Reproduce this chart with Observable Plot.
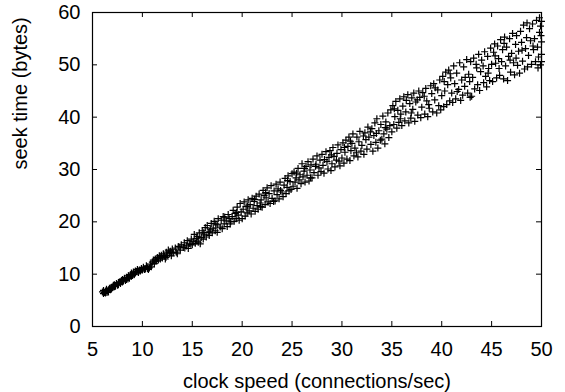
<!DOCTYPE html>
<html>
<head>
<meta charset="utf-8">
<script src="https://cdn.jsdelivr.net/npm/d3@7"></script>
<script src="https://cdn.jsdelivr.net/npm/@observablehq/plot@0.6"></script>
<style>
  html, body { margin: 0; padding: 0; background: #fff; }
</style>
</head>
<body>
<div id="chart"></div>
<script>
// ---- data ----
const xLabel = "clock speed (connections/sec)";
const yLabel = "seek time (bytes)";
const xTicks = [5, 10, 15, 20, 25, 30, 35, 40, 45, 50];
const yTicks = [0, 10, 20, 30, 40, 50, 60];

const seg1 = [[6.0,6.6],[6.1,6.3],[6.1,6.9],[6.2,6.5],[6.3,6.8],[6.3,6.4],[6.4,7.1],[6.5,6.8],[6.6,7.0],[6.6,6.6],[6.7,7.3],[6.8,7.0],[6.9,7.5],[6.9,7.2],[7.0,7.4],[7.1,7.9],[7.2,7.6],[7.2,8.0],[7.3,7.7],[7.4,8.2],[7.5,7.9],[7.6,8.4],[7.6,8.0],[7.7,8.5],[7.8,8.2],[7.9,8.8],[8.0,8.5],[8.0,9.0],[8.1,8.7],[8.2,9.2],[8.3,8.8],[8.4,9.4],[8.4,9.0],[8.5,9.3],[8.6,9.7],[8.7,9.2],[8.8,9.9],[8.9,9.6],[8.9,10.2],[9.0,9.8],[9.1,10.4],[9.2,10.0],[9.3,10.6],[9.3,10.2],[9.4,10.5],[9.5,10.9],[9.6,10.3],[9.7,10.8],[9.8,10.6],[9.9,11.1],[10.0,10.8]];
const seg2 = [[10.1,11.3],[10.2,10.9],[10.3,11.0],[10.4,11.6],[10.5,11.1],[10.6,10.9],[10.7,11.2],[10.8,11.9],[10.9,11.4],[11.0,12.3],[11.1,12.7],[11.2,12.0],[11.3,12.9],[11.4,12.5],[11.5,13.2],[11.6,12.7],[11.7,13.5],[11.8,12.9],[11.9,13.6],[12.0,13.1],[12.1,13.9],[12.2,13.4],[12.3,12.9],[12.4,14.2],[12.5,13.6],[12.6,14.6],[12.7,13.9],[12.8,14.4],[12.9,13.5],[13.0,14.8],[13.1,14.1],[13.3,15.0],[13.4,14.2],[13.5,13.9],[13.6,15.3],[13.8,14.6],[13.9,15.6],[14.1,15.1],[14.2,16.0],[14.4,15.4],[14.5,16.4],[14.6,14.9],[14.7,15.8],[14.9,16.7],[15.0,15.6]];
const seg3 = [[15.1,16.3],[15.2,17.6],[15.3,15.9],[15.4,16.8],[15.5,17.2],[15.6,16.1],[15.7,17.9],[15.8,15.8],[15.9,17.0],[16.0,18.3],[16.1,16.7],[16.2,17.5],[16.3,18.9],[16.4,17.1],[16.5,19.3],[16.6,18.0],[16.7,17.4],[16.8,18.6],[16.9,19.7],[17.0,17.9],[17.1,18.8],[17.2,20.1],[17.3,18.3],[17.5,19.4],[17.5,18.0],[17.6,20.6],[17.8,19.0],[17.9,20.3],[18.0,18.7],[18.1,21.0],[18.2,19.6],[18.4,20.2],[18.5,19.1],[18.6,21.4],[18.7,20.6],[18.8,19.6],[19.0,21.0],[19.1,22.2],[19.2,20.1],[19.3,21.6],[19.4,20.6],[19.5,22.8],[19.6,21.3],[19.7,20.3],[19.8,23.5],[19.9,21.9],[20.0,20.6]];
const seg4 = [[20.1,22.4],[20.2,23.8],[20.3,21.1],[20.4,22.9],[20.5,21.7],[20.6,24.2],[20.7,22.1],[20.8,23.3],[20.9,21.5],[21.0,24.5],[21.1,22.6],[21.2,23.9],[21.3,22.0],[21.4,24.9],[21.5,23.1],[21.6,22.4],[21.7,25.3],[21.8,23.6],[21.9,24.2],[22.0,22.8],[22.1,26.0],[22.2,25.0],[22.3,23.3],[22.4,24.6],[22.5,26.5],[22.6,23.8],[22.7,25.4],[22.8,23.5],[22.9,26.9],[23.0,24.5],[23.2,25.9],[23.3,24.0],[23.4,27.2],[23.5,25.2],[23.6,26.3],[23.7,24.4],[23.8,27.6],[24.0,25.7],[24.1,24.8],[24.2,27.0],[24.3,28.3],[24.4,25.4],[24.5,26.6],[24.6,28.8],[24.7,25.9],[24.8,27.7],[24.9,26.2],[25.0,29.2]];
const seg5 = [[25.1,26.8],[25.2,29.5],[25.3,27.6],[25.4,28.4],[25.5,26.4],[25.6,30.2],[25.7,28.0],[25.8,29.0],[25.9,27.3],[26.0,31.1],[26.1,28.6],[26.2,29.7],[26.3,27.6],[26.4,30.6],[26.5,28.9],[26.6,31.5],[26.7,27.8],[26.8,29.9],[26.9,30.9],[27.0,28.4],[27.1,32.0],[27.2,29.4],[27.4,31.0],[27.5,32.6],[27.6,28.9],[27.7,30.3],[27.8,31.8],[27.9,29.6],[28.0,32.9],[28.1,30.8],[28.2,29.3],[28.4,33.4],[28.5,31.5],[28.6,30.1],[28.7,32.3],[28.8,33.6],[28.9,29.8],[29.0,31.1],[29.1,34.2],[29.2,32.5],[29.3,30.5],[29.5,33.1],[29.6,34.7],[29.7,31.6],[29.8,30.7],[29.9,33.8],[30.0,32.2]];
const seg6 = [[30.1,35.1],[30.2,31.2],[30.3,33.3],[30.4,35.6],[30.5,32.0],[30.6,34.4],[30.7,36.2],[30.8,31.7],[30.9,33.6],[31.0,35.0],[31.1,36.8],[31.2,32.6],[31.3,34.1],[31.5,36.2],[31.6,32.4],[31.7,35.3],[31.8,37.3],[31.9,33.5],[32.0,34.6],[32.2,32.9],[32.3,37.0],[32.4,35.7],[32.5,33.9],[32.6,38.1],[32.7,36.2],[32.9,34.8],[33.0,37.8],[33.1,33.5],[33.2,36.5],[33.3,38.9],[33.4,35.2],[33.5,39.7],[33.6,34.1],[33.7,37.4],[33.9,38.6],[34.0,35.8],[34.1,40.2],[34.2,36.8],[34.3,34.9],[34.4,39.1],[34.5,37.7],[34.6,40.8],[34.7,36.1],[34.8,38.4],[34.9,41.4],[35.0,37.2]];
const seg7 = [[35.1,42.2],[35.2,38.6],[35.3,40.1],[35.4,43.0],[35.5,37.9],[35.6,41.3],[35.7,39.0],[35.8,43.5],[35.9,40.6],[36.0,38.4],[36.1,42.1],[36.2,43.9],[36.3,39.3],[36.4,41.0],[36.6,44.3],[36.7,38.9],[36.8,42.6],[36.9,39.8],[37.0,43.7],[37.1,41.5],[37.2,44.6],[37.3,39.2],[37.4,42.9],[37.6,40.4],[37.7,45.0],[37.8,43.8],[37.9,39.9],[38.0,41.9],[38.1,44.7],[38.3,40.6],[38.4,45.5],[38.5,43.1],[38.6,40.1],[38.7,42.4],[38.9,46.0],[39.0,44.5],[39.1,41.0],[39.2,46.4],[39.3,43.3],[39.5,40.8],[39.6,45.2],[39.7,42.2],[39.8,47.1],[39.9,41.4],[40.0,44.1]];
const seg8 = [[40.1,47.8],[40.2,42.0],[40.3,45.0],[40.4,48.6],[40.5,42.4],[40.6,46.2],[40.7,49.0],[40.8,43.1],[40.9,47.5],[41.0,44.6],[41.1,42.8],[41.2,49.8],[41.3,46.4],[41.4,43.5],[41.5,48.4],[41.7,45.3],[41.8,50.4],[41.9,43.2],[42.0,47.1],[42.1,44.2],[42.2,49.6],[42.3,45.9],[42.5,51.0],[42.6,44.6],[42.7,48.2],[42.8,46.8],[42.9,50.6],[43.0,44.0],[43.1,47.6],[43.2,51.3],[43.3,45.4],[43.5,49.4],[43.6,46.2],[43.7,52.0],[43.8,45.1],[43.9,48.7],[44.0,50.9],[44.2,46.6],[44.3,52.5],[44.4,47.8],[44.5,45.8],[44.6,51.6],[44.7,49.3],[44.8,47.0],[44.9,53.2],[45.0,50.1]];
const seg9 = [[45.1,46.8],[45.2,52.4],[45.3,54.0],[45.4,50.3],[45.5,47.5],[45.6,53.6],[45.7,51.2],[45.8,48.0],[45.9,54.8],[46.0,50.6],[46.1,52.9],[46.2,47.3],[46.3,55.3],[46.4,49.8],[46.5,53.4],[46.6,47.0],[46.7,51.6],[46.8,55.0],[46.9,48.6],[47.0,52.2],[47.1,56.0],[47.2,50.4],[47.3,48.1],[47.4,53.9],[47.5,55.6],[47.6,49.9],[47.7,52.6],[47.8,48.4],[47.9,56.4],[48.0,54.3],[48.1,50.7],[48.2,57.6],[48.3,49.2],[48.4,53.1],[48.5,55.2],[48.6,49.6],[48.7,51.8],[48.8,56.9],[48.9,54.6],[49.0,50.1],[49.1,57.8],[49.2,52.9],[49.3,55.0],[49.4,50.6],[49.5,58.5],[49.6,53.4],[49.7,51.5],[49.8,56.2],[49.8,59.0],[49.9,50.0],[50.0,54.4],[49.9,57.4],[50.0,52.0]];
const extra = [[6.45,6.5],[7.05,7.7],[7.85,8.6],[8.55,9.1],[9.15,9.9],[9.65,10.6],[10.45,11.4],[11.25,12.4],[11.85,13.3],[12.35,13.2],[12.95,14.1],[13.75,15.2],[14.25,15.0],[14.85,15.7],[15.45,16.3],[16.15,17.9],[16.75,18.2],[17.35,19.6],[18.25,20.9],[18.85,20.0],[19.45,21.8],[20.55,23.0],[21.25,24.3],[21.85,22.9],[22.35,25.6],[23.15,23.9],[23.85,26.0],[24.55,27.9],[25.45,29.3],[26.25,30.2],[26.85,28.4],[27.35,30.6],[28.25,31.9],[28.95,32.8],[29.45,31.8],[30.25,34.2],[30.85,35.4],[31.45,33.2],[32.15,36.4],[32.85,37.2],[33.45,36.9],[33.85,35.6],[34.35,38.0],[35.25,41.6],[35.85,39.7],[36.45,43.2],[36.95,40.8],[37.55,43.3],[38.25,44.0],[38.75,41.7],[39.35,45.6],[40.25,46.8],[40.85,48.3],[41.55,44.9],[42.35,47.6],[42.85,43.8],[43.45,50.1],[44.15,49.8],[44.65,48.4],[45.35,51.7],[45.75,49.3],[46.25,54.1],[46.85,50.9],[47.45,51.3],[48.05,52.8],[48.55,58.0],[49.15,53.6],[49.65,49.4],[49.95,55.6],[50.0,58.3],[50.0,50.6]];

const points = [...seg1, ...seg2, ...seg3, ...seg4, ...seg5, ...seg6, ...seg7, ...seg8, ...seg9, ...extra]
  .map(([x, y]) => ({x, y}));

// ---- layout ----
const W = 565, H = 392;
const mL = 92, mR = 24, mT = 12, mB = 66;
const innerW = W - mL - mR, innerH = H - mT - mB;
const font = "'Liberation Sans', Arial, Helvetica, sans-serif";

// gnuplot-like "+" symbol drawn with strokes
const plusSymbol = {
  draw(ctx, size) {
    const r = Math.sqrt(size / Math.PI);
    ctx.moveTo(-r, 0); ctx.lineTo(r, 0);
    ctx.moveTo(0, -r); ctx.lineTo(0, r);
  }
};

const chart = Plot.plot({
  width: W, height: H,
  marginLeft: mL, marginRight: mR, marginTop: mT, marginBottom: mB,
  style: {fontFamily: font, fontSize: "20px", color: "#000", background: "#fff"},
  x: {domain: [5, 50], axis: null},
  y: {domain: [0, 60], axis: null},
  marks: [
    Plot.dot(points, {x: "x", y: "y", symbol: plusSymbol, r: 3.5, fill: "none", stroke: "#000", strokeWidth: 1.2}),
    // inward tick marks (bottom, top, left, right)
    Plot.tickX(xTicks, {x: d => d, insetTop: innerH - 5, stroke: "#000"}),
    Plot.tickX(xTicks, {x: d => d, insetBottom: innerH - 5, stroke: "#000"}),
    Plot.tickY(yTicks, {y: d => d, insetRight: innerW - 5, stroke: "#000"}),
    Plot.tickY(yTicks, {y: d => d, insetLeft: innerW - 5, stroke: "#000"}),
    Plot.frame({stroke: "#000", strokeWidth: 1.2}),
    Plot.axisX(xTicks, {anchor: "bottom", tickSize: 0, tickPadding: 15, label: null, fontSize: 20}),
    Plot.axisY(yTicks, {anchor: "left", tickSize: 0, tickPadding: 12, label: null, fontSize: 20}),
    Plot.text([xLabel], {frameAnchor: "bottom", lineAnchor: "middle", dy: 54.6, text: d => d, fontSize: 20}),
    Plot.text([yLabel], {frameAnchor: "left", lineAnchor: "middle", dx: -72, rotate: -90, text: d => d, fontSize: 20})
  ]
});
document.getElementById("chart").appendChild(chart);
</script>
</body>
</html>
